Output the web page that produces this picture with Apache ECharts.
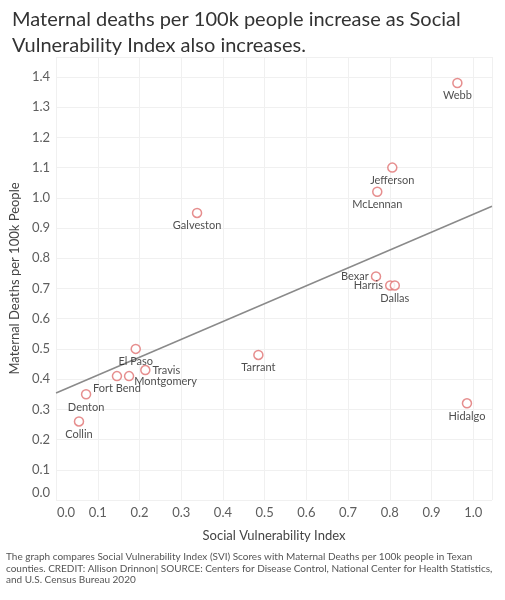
<!DOCTYPE html>
<html>
<head>
<meta charset="utf-8">
<script src="https://cdn.jsdelivr.net/npm/echarts@6/dist/echarts.min.js"></script>
<style>
  html, body { margin: 0; padding: 0; background: #fff; }
  #main { width: 505px; height: 600px; }
</style>
</head>
<body>
<div id="main"></div>
<script>
// county data
const counties = ['Webb', 'Jefferson', 'McLennan', 'Galveston', 'Bexar', 'Harris', 'Dallas',
  'El Paso', 'Tarrant', 'Travis', 'Fort Bend', 'Montgomery', 'Denton', 'Hidalgo', 'Collin'];
const svi = [0.962, 0.806, 0.770, 0.338, 0.767, 0.801, 0.812,
  0.191, 0.485, 0.214, 0.146, 0.175, 0.072, 0.985, 0.055];
const deaths = [1.38, 1.10, 1.02, 0.95, 0.74, 0.71, 0.71,
  0.50, 0.48, 0.43, 0.41, 0.41, 0.35, 0.32, 0.26];

// fitted trend line end points
const trendX = [0, 1.045];
const trendY = [0.354, 0.972];

const xTicks = ['0.0', '0.1', '0.2', '0.3', '0.4', '0.5', '0.6', '0.7', '0.8', '0.9', '1.0'];

let chart = echarts.init(document.getElementById('main'));

// where each county label sits
let labelSide = {
  'Bexar': 'left',
  'Harris': 'left',
  'Travis': 'right',
  'Montgomery': 'right'
};

let points = counties.map((c, i) => {
  let side = labelSide[c] || 'bottom';
  let item = { name: c, value: [svi[i], deaths[i]], label: { position: side } };
  if (c === 'Montgomery') item.label.offset = [-2, 5];
  return item;
});

const font = 'Lato, "Open Sans", sans-serif';

let option = {
  backgroundColor: '#fff',
  animation: false,
  title: {
    text: 'Maternal deaths per 100k people increase as Social\nVulnerability Index also increases.',
    left: 7,
    top: 2,
    textStyle: {
      fontFamily: font,
      fontSize: 20,
      fontWeight: 'normal',
      color: '#333',
      lineHeight: 26
    }
  },
  grid: {
    left: 55,
    right: 13,
    top: 57,
    bottom: 100
  },
  xAxis: {
    type: 'value',
    min: 0,
    max: 1.045,
    interval: 0.1,
    name: 'Social Vulnerability Index',
    nameLocation: 'middle',
    nameGap: 29,
    nameTextStyle: { fontFamily: font, fontSize: 13, color: '#444' },
    axisLine: { show: false },
    axisTick: { show: false },
    splitLine: { lineStyle: { color: '#f0f0f0', width: 1 } },
    axisLabel: {
      showMaxLabel: false,
      margin: 6,
      fontFamily: font,
      fontSize: 13,
      color: '#5e5e5e',
      formatter: function (v) {
        let idx = Math.round(v * 10);
        if (idx === 0) return '{z|' + xTicks[0] + '}';
        return xTicks[idx] || '';
      },
      rich: {
        z: { padding: [0, 0, 0, 20], fontFamily: font, fontSize: 13, color: '#5e5e5e' }
      }
    }
  },
  yAxis: {
    type: 'value',
    min: 0,
    max: 1.466,
    interval: 0.1,
    name: 'Maternal Deaths per 100k People',
    nameLocation: 'middle',
    nameGap: 34,
    nameTextStyle: { fontFamily: font, fontSize: 13, color: '#444' },
    axisLine: { show: false },
    axisTick: { show: false },
    splitLine: { lineStyle: { color: '#f0f0f0', width: 1 } },
    axisLabel: {
      showMaxLabel: false,
      margin: 6,
      fontFamily: font,
      fontSize: 13,
      color: '#5e5e5e',
      formatter: function (v) {
        if (v === 0) return '{z|0.0}';
        return v.toFixed(1);
      },
      rich: {
        z: { padding: [0, 0, 14, 0], fontFamily: font, fontSize: 13, color: '#5e5e5e' }
      }
    }
  },
  series: [
    {
      name: 'trend',
      type: 'line',
      data: trendX.map((x, i) => [x, trendY[i]]),
      showSymbol: false,
      lineStyle: { color: '#8a8a8a', width: 1.5 },
      silent: true,
      z: 1
    },
    {
      name: 'counties',
      type: 'scatter',
      data: points,
      symbol: 'circle',
      symbolSize: 9,
      itemStyle: {
        color: '#fff',
        borderColor: '#e07272',
        borderWidth: 1.5
      },
      label: {
        show: true,
        formatter: '{b}',
        distance: 2,
        fontFamily: font,
        fontSize: 11,
        color: '#222'
      },
      z: 3
    }
  ],
  graphic: [
    {
      type: 'text',
      left: 6,
      top: 551,
      style: {
        text: 'The graph compares Social Vulnerability Index (SVI) Scores with Maternal Deaths per 100k people in Texan\ncounties. CREDIT: Allison Drinnon| SOURCE: Centers for Disease Control, National Center for Health Statistics,\nand U.S. Census Bureau 2020',
        fontFamily: font,
        fontSize: 10,
        lineHeight: 11.7,
        fill: '#555'
      }
    }
  ]
};

chart.setOption(option);
</script>
</body>
</html>
